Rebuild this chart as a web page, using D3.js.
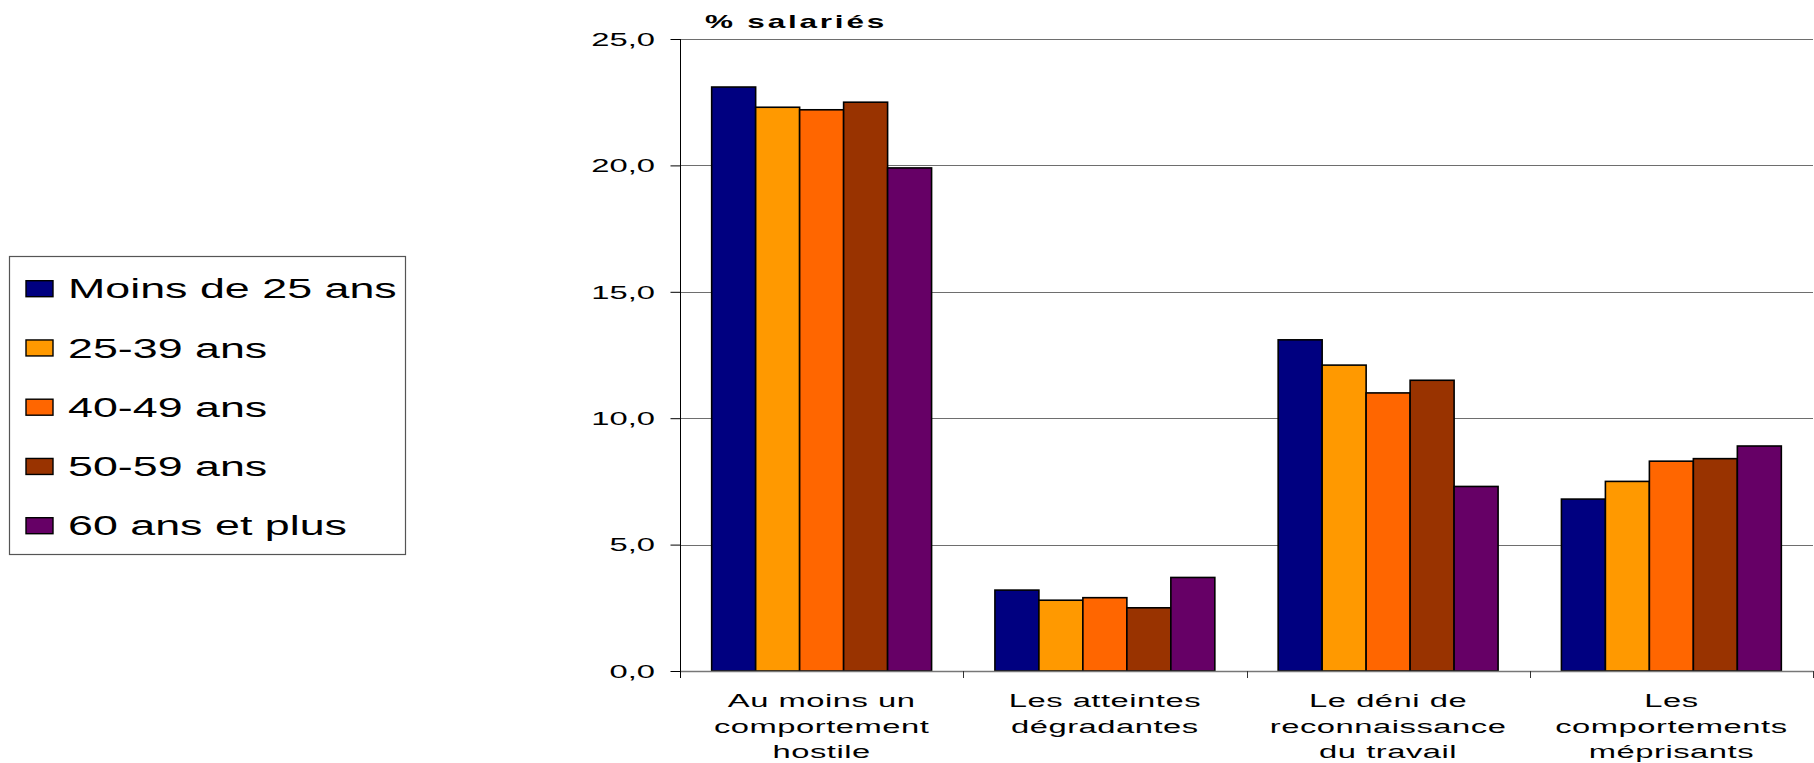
<!DOCTYPE html>
<html>
<head>
<meta charset="utf-8">
<script src="https://cdn.jsdelivr.net/npm/d3@7"></script>
<style>
  html, body { margin: 0; padding: 0; background: #ffffff; }
  svg { display: block; }
  text { font-family: "Liberation Sans", Arial, sans-serif; fill: #000; }
</style>
</head>
<body>
<svg id="chart" width="1814" height="763"></svg>
<script>
// Harcèlement / comportements hostiles au travail selon l'âge (% de salariés)
const categories = [
  ["Au moins un", "comportement", "hostile"],
  ["Les atteintes", "dégradantes"],
  ["Le déni de", "reconnaissance", "du travail"],
  ["Les", "comportements", "méprisants"]
];
const seriesNames = ["Moins de 25 ans", "25-39 ans", "40-49 ans", "50-59 ans", "60 ans et plus"];
const seriesColors = ["#000080", "#FF9900", "#FF6600", "#993300", "#660066"];
const moins25 = [23.1, 3.2, 13.1, 6.8];
const de25a39 = [22.3, 2.8, 12.1, 7.5];
const de40a49 = [22.2, 2.9, 11.0, 8.3];
const de50a59 = [22.5, 2.5, 11.5, 8.4];
const plus60  = [19.9, 3.7, 7.3, 8.9];
const yTicks = [0, 5, 10, 15, 20, 25];
const yTitle = "% salariés";

const seriesValues = [moins25, de25a39, de40a49, de50a59, plus60];
const catKeys = categories.map((c, i) => i);

const svg = d3.select("#chart");
const plot = { left: 680, right: 1813, top: 39, bottom: 671 };
const SX = 1.76; // horizontal stretch of the lettering

const x0 = d3.scaleBand().domain(catKeys).range([plot.left, plot.right]).padding(0);
const x1 = d3.scaleBand().domain(d3.range(seriesNames.length))
  .range([0, x0.bandwidth()]).paddingInner(0).paddingOuter(0.72);
const y = d3.scaleLinear().domain([0, 25]).range([plot.bottom, plot.top]);

// stretched text helper
function stretchedText(sel, x, yy, str, size, anchor, sx, weight, spacing) {
  return sel.append("text")
    .attr("transform", `translate(${x},${yy}) scale(${sx},1)`)
    .attr("text-anchor", anchor)
    .style("font-size", size + "px")
    .style("font-weight", weight || "normal")
    .style("letter-spacing", (spacing || 0) + "px")
    .text(str);
}

// gridlines
svg.append("g").selectAll("line").data(yTicks.filter(d => d > 0)).join("line")
  .attr("x1", plot.left).attr("x2", plot.right)
  .attr("y1", d => Math.round(y(d)) + 0.5).attr("y2", d => Math.round(y(d)) + 0.5)
  .attr("stroke", "#6e6e6e").attr("stroke-width", 1.2);

// bars
const groups = svg.append("g").selectAll("g").data(catKeys).join("g")
  .attr("transform", d => `translate(${x0(d)},0)`);
groups.selectAll("rect")
  .data(ci => seriesValues.map((vals, si) => ({ si, v: vals[ci] })))
  .join("rect")
  .attr("x", d => x1(d.si))
  .attr("width", x1.bandwidth())
  .attr("y", d => y(d.v))
  .attr("height", d => y(0) - y(d.v))
  .attr("fill", d => seriesColors[d.si])
  .attr("stroke", "#000").attr("stroke-width", 1.6);

// x axis baseline and category ticks
const xAxis = d3.axisBottom(x0).tickSize(0).tickFormat("");
svg.append("g").attr("transform", `translate(0,${plot.bottom})`).call(xAxis)
  .call(g => g.select(".domain").attr("stroke", "#777").attr("stroke-width", 1.4));
const sep = catKeys.map(k => x0(k)).concat([plot.right]);
svg.append("g").selectAll("line").data(sep).join("line")
  .attr("x1", d => Math.round(d) + 0.5).attr("x2", d => Math.round(d) + 0.5)
  .attr("y1", plot.bottom).attr("y2", plot.bottom + 7)
  .attr("stroke", "#333").attr("stroke-width", 1);

// y axis
const yAxis = d3.axisLeft(y).tickValues(yTicks).tickSize(10).tickPadding(0).tickFormat("");
svg.append("g").attr("transform", `translate(${plot.left + 0.5},0)`).call(yAxis)
  .call(g => g.select(".domain").attr("stroke", "#000").attr("d", `M0,${plot.top}V${plot.bottom + 7}`))
  .call(g => g.selectAll(".tick line").attr("stroke", "#000"));

const fmt = d => d3.format(".1f")(d).replace(".", ",");
yTicks.forEach(t => stretchedText(svg, 655, y(t) + 6.7, fmt(t), 18.6, "end", SX));

// category labels
catKeys.forEach(k => {
  const cx = x0(k) + x0.bandwidth() / 2;
  categories[k].forEach((line, li) => {
    stretchedText(svg, cx, 707 + li * 25.5, line, 18.6, "middle", SX, "normal", 0.3);
  });
});

// axis title
stretchedText(svg, 796, 28.3, yTitle, 18, "middle", 1.75, "bold", 1.6);

// legend
const lg = svg.append("g");
lg.append("rect").attr("x", 9.5).attr("y", 256.5).attr("width", 396).attr("height", 298)
  .attr("fill", "#fff").attr("stroke", "#555").attr("stroke-width", 1.2);
seriesNames.forEach((name, i) => {
  const cy = 288.7 + i * 59.25;
  lg.append("rect").attr("x", 26).attr("y", cy - 8).attr("width", 27).attr("height", 16)
    .attr("fill", seriesColors[i]).attr("stroke", "#000").attr("stroke-width", 1.4);
  stretchedText(lg, 68, cy + 9.7, name, 27, "start", 1.66);
});
</script>
</body>
</html>
